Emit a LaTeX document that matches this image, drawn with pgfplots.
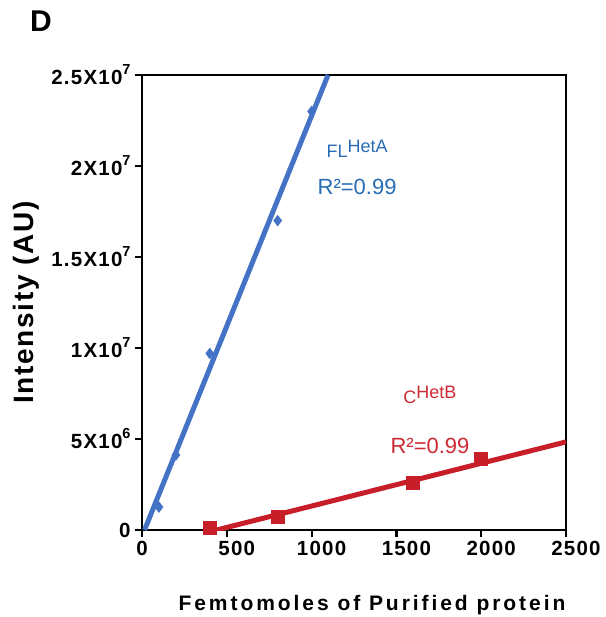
\documentclass[border=0pt]{standalone}
\usepackage{pgfplots}
\pgfplotsset{compat=1.18}
\usepackage{fontspec}
\setmainfont{Liberation Sans}
\newfontfamily\tkfont[LetterSpace=6]{Liberation Sans}
\newfontfamily\xlfont[LetterSpace=14]{Liberation Sans}
\newfontfamily\ylfont[LetterSpace=6]{Liberation Sans}
\definecolor{blueL}{RGB}{68,114,196}
\definecolor{blueT}{RGB}{40,108,182}
\definecolor{redL}{RGB}{200,30,42}
\definecolor{redT}{RGB}{204,42,52}
\newcommand\sep[1]{\raisebox{10pt}{\fontsize{14.5}{14}\selectfont #1}}
\newcommand\ann[1]{\raisebox{5pt}{#1}}
\begin{document}
\begin{tikzpicture}
\path[use as bounding box] (-142pt,-87pt) rectangle (463pt,530pt);
\begin{axis}[at={(0,0)}, anchor=south west, scale only axis,
  width=424pt, height=455pt,
  xmin=0, xmax=2500, ymin=0, ymax=2.5e7,
  line width=2.2pt,
  tick align=outside, xtick pos=bottom, ytick pos=left,
  major tick length=7pt, tick style={line width=2.2pt, black},
  xtick={0,500,1000,1500,2000,2500},
  xticklabels={\hspace*{-20pt}0,500,1000,1500,2000,2500},
  xticklabel style={xshift=10pt},
  ytick={0,5e6,1e7,1.5e7,2e7,2.5e7},
  yticklabels={0, 5X10\sep{6}, 1X10\sep{7}, 1.5X10\sep{7}, 2X10\sep{7}, 2.5X10\sep{7}},
  scaled y ticks=false,
  ticklabel style={font=\tkfont\bfseries\fontsize{20.5}{24}\selectfont},
  xlabel={Femtomoles of Purified protein},
  xlabel style={font=\xlfont\bfseries\fontsize{21}{25}\selectfont,
    at={(axis description cs:0.5,0)}, anchor=base, yshift=-80pt, xshift=18pt},
  ylabel={Intensity (AU)},
  ylabel style={font=\ylfont\bfseries\fontsize{28}{32}\selectfont,
    at={(axis description cs:0,0.5)}, anchor=base, yshift=108pt},
  clip mode=individual]
  \addplot[blueL, line width=5pt] coordinates {(15,0) (1097,2.5e7)};
  \addplot[only marks, mark=diamond*, mark size=4pt, blueL] coordinates {
    (100,1.26e6) (200,4.12e6) (400,9.7e6) (800,1.70e7) (1000,2.30e7)};
  \addplot[redL, line width=5pt] coordinates {(440,0) (2500,4.84e6)};
  \addplot[only marks, mark=square*, mark size=6pt, redL] coordinates {
    (400,0.1e6) (800,0.71e6) (1600,2.58e6) (2000,3.9e6)};
  \node[anchor=base, text=blueT, font=\fontsize{18}{22}\selectfont] at (axis cs:1268,2.044e7) {FL\ann{HetA}};
  \node[anchor=base, text=blueT, font=\fontsize{22}{26}\selectfont] at (axis cs:1268,1.841e7) {R²=0.99};
  \node[anchor=base, text=redT, font=\fontsize{18}{22}\selectfont] at (axis cs:1698,6.95e6) {C\ann{HetB}};
  \node[anchor=base, text=redT, font=\fontsize{22}{26}\selectfont] at (axis cs:1698,4.23e6) {R²=0.99};
\end{axis}
\node[anchor=base, font=\bfseries\fontsize{30}{34}\selectfont] at (-101pt,498pt) {D};
\end{tikzpicture}
\end{document}
